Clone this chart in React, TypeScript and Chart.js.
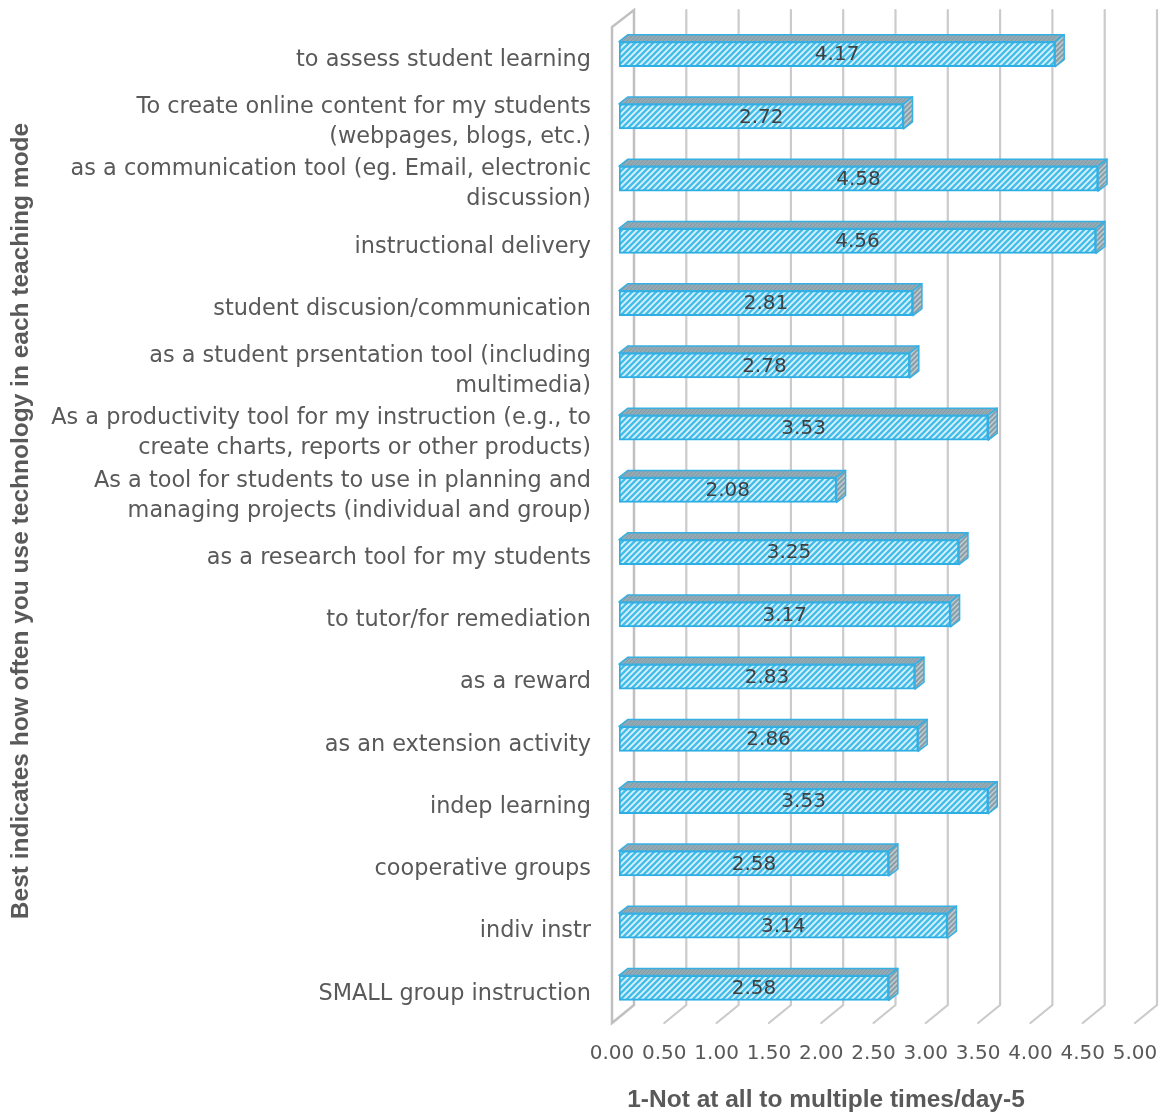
import { useEffect, useRef } from "react";
import { Chart, registerables } from "chart.js";

Chart.register(...registerables);

const categories: (string | string[])[] = [
  "to assess student learning",
  ["To create online content for my students", "(webpages, blogs, etc.)"],
  ["as a communication tool (eg. Email, electronic", "discussion)"],
  "instructional delivery",
  "student discusion/communication",
  ["as a student prsentation tool (including", "multimedia)"],
  ["As a productivity tool for my instruction (e.g., to", "create charts, reports or other products)"],
  ["As a tool for students to use in planning and", "managing projects (individual and group)"],
  "as a research tool for my students",
  "to tutor/for remediation",
  "as a reward",
  "as an extension activity",
  "indep learning",
  "cooperative groups",
  "indiv instr",
  "SMALL group instruction",
];

const values = [4.17, 2.72, 4.58, 4.56, 2.81, 2.78, 3.53, 2.08, 3.25, 3.17, 2.83, 2.86, 3.53, 2.58, 3.14, 2.58];

const xMin = 0;
const xMax = 5;
const xStep = 0.5;

const yTitle = "Best indicates how often you use technology in each teaching mode";
const xTitle = "1-Not at all to multiple times/day-5";

const LABEL_FONT = "'DejaVu Sans'";
const TITLE_FONT = "'Liberation Sans'";

function makeHatch(bg: string, fg: string, size: number, lw: number) {
  const c = document.createElement("canvas");
  c.width = size;
  c.height = size;
  const g = c.getContext("2d")!;
  g.fillStyle = bg;
  g.fillRect(0, 0, size, size);
  g.strokeStyle = fg;
  g.lineWidth = lw;
  g.beginPath();
  g.moveTo(-1, size + 1);
  g.lineTo(size + 1, -1);
  g.moveTo(-1, 1);
  g.lineTo(1, -1);
  g.moveTo(size - 1, size + 1);
  g.lineTo(size + 1, size - 1);
  g.stroke();
  return g.createPattern(c, "repeat")!;
}

export default function App() {
  const ref = useRef<HTMLCanvasElement | null>(null);

  useEffect(() => {
    const canvas = ref.current!;
    const ctx = canvas.getContext("2d")!;
    const frontPattern = makeHatch("#d9f2fc", "#45bde9", 6, 2.4);
    const sidePattern = makeHatch("#8a9ea8", "#c3d0d6", 5, 1.4);
    const topPattern = makeHatch("#93a9b4", "#879ba5", 4, 1);

    const BAR_DX = 9, BAR_DY = 7;
    const BACK_DX = 15;
    const FRONT_DX = -7;

    const threeD = {
      id: "threeD",
      beforeDatasetsDraw(chart: any) {
        const { ctx, chartArea } = chart;
        const xs = chart.scales.x;
        const backTop = chartArea.top - 13;
        const backBottom = chartArea.bottom - 14;
        const frontBottom = chartArea.bottom + 4;
        const frontTop = chartArea.top + 4;
        ctx.save();
        ctx.lineCap = "round";
        ctx.strokeStyle = "#cbcbcb";
        ctx.lineWidth = 2.2;
        for (let v = xMin + xStep; v <= xMax + 1e-9; v += xStep) {
          const px = xs.getPixelForValue(v);
          ctx.beginPath();
          ctx.moveTo(px + BACK_DX, backTop);
          ctx.lineTo(px + BACK_DX, backBottom);
          ctx.lineTo(px + FRONT_DX, frontBottom);
          ctx.stroke();
        }
        const p0 = xs.getPixelForValue(xMin);
        ctx.strokeStyle = "#c0c0c0";
        ctx.lineWidth = 2.5;
        ctx.beginPath();
        ctx.moveTo(p0 + BACK_DX, backBottom);
        ctx.lineTo(p0 + BACK_DX, backTop);
        ctx.lineTo(p0 + FRONT_DX, frontTop);
        ctx.lineTo(p0 + FRONT_DX, frontBottom);
        ctx.lineTo(p0 + BACK_DX, backBottom);
        ctx.stroke();
        ctx.restore();
      },
      afterDatasetsDraw(chart: any) {
        const { ctx } = chart;
        const meta = chart.getDatasetMeta(0);
        ctx.save();
        meta.data.forEach((bar: any, i: number) => {
          const { x, y, base, height } = bar.getProps(["x", "y", "base", "height"], true);
          const top = y - height / 2;
          const bottom = y + height / 2;
          ctx.lineJoin = "round";
          ctx.beginPath();
          ctx.moveTo(base, top);
          ctx.lineTo(base + BAR_DX, top - BAR_DY);
          ctx.lineTo(x + BAR_DX, top - BAR_DY);
          ctx.lineTo(x, top);
          ctx.closePath();
          ctx.fillStyle = topPattern;
          ctx.fill();
          ctx.strokeStyle = "#36b0e3";
          ctx.lineWidth = 1.5;
          ctx.stroke();
          ctx.beginPath();
          ctx.moveTo(x, top);
          ctx.lineTo(x + BAR_DX, top - BAR_DY);
          ctx.lineTo(x + BAR_DX, bottom - BAR_DY);
          ctx.lineTo(x, bottom);
          ctx.closePath();
          ctx.fillStyle = sidePattern;
          ctx.fill();
          ctx.stroke();
          ctx.fillStyle = "#404040";
          ctx.font = `20px ${LABEL_FONT}`;
          ctx.textAlign = "center";
          ctx.textBaseline = "middle";
          ctx.fillText(values[i].toFixed(2), (base + x) / 2, y + 1);
        });
        ctx.restore();
      },
      afterDraw(chart: any) {
        const { ctx } = chart;
        ctx.save();
        ctx.fillStyle = "#595959";
        ctx.font = `bold 24.5px ${TITLE_FONT}`;
        ctx.textAlign = "center";
        ctx.textBaseline = "middle";
        ctx.fillText(xTitle, 826, 1100);
        ctx.restore();
      },
    };

    const chart = new Chart(ctx, {
      type: "bar",
      data: {
        labels: categories,
        datasets: [
          {
            data: values,
            backgroundColor: frontPattern,
            borderColor: "#2eaee2",
            borderWidth: 2,
            borderSkipped: false,
            barThickness: 25,
          },
        ],
      },
      options: {
        indexAxis: "y",
        responsive: false,
        animation: false,
        layout: { padding: { top: 23, right: 20, left: 0, bottom: 0 } },
        plugins: { legend: { display: false }, tooltip: { enabled: false } },
        scales: {
          x: {
            min: xMin,
            max: xMax,
            grid: { display: false, drawTicks: false },
            border: { display: false },
            ticks: {
              stepSize: xStep,
              callback: (v: any) => Number(v).toFixed(2),
              font: { family: LABEL_FONT, size: 20 },
              color: "#595959",
              padding: 23,
              labelOffset: -7,
              maxRotation: 0,
              autoSkip: false,
            },
            afterFit: (s: any) => {
              s.height = 96;
              s.paddingLeft = 0;
              s.paddingRight = 0;
              s.paddingTop = 0;
              s.paddingBottom = 0;
            },
          },
          y: {
            grid: { display: false, drawTicks: false },
            border: { display: false },
            ticks: {
              font: { family: LABEL_FONT, size: 22.4, lineHeight: 1.34 },
              color: "#595959",
              padding: 28,
              labelOffset: 6,
              autoSkip: false,
            },
            title: {
              display: true,
              text: yTitle,
              color: "#595959",
              font: { family: TITLE_FONT, size: 24.5, weight: "bold" },
              padding: { top: 7, bottom: 0 },
            },
            afterFit: (s: any) => {
              s.width = 619;
              s.paddingLeft = 0;
              s.paddingRight = 0;
              s.paddingTop = 0;
              s.paddingBottom = 0;
            },
          },
        },
      },
      plugins: [threeD],
    } as any);
    return () => chart.destroy();
  }, []);

  return (
    <div style={{ position: "absolute", left: 0, top: 0, width: 1162, height: 1115, background: "#fff" }}>
      <canvas ref={ref} width={1162} height={1115} />
    </div>
  );
}
